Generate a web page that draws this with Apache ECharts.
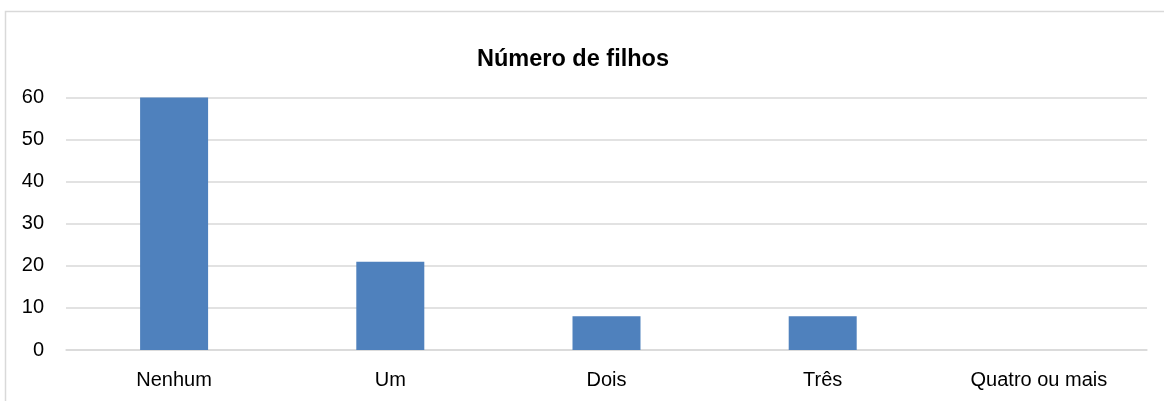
<!DOCTYPE html>
<html><head><meta charset="utf-8">
<script src="https://cdn.jsdelivr.net/npm/echarts@6/dist/echarts.min.js"></script>
<style>html,body{margin:0;padding:0;background:#fff}#c{width:1164px;height:401px}</style>
</head><body><div id="c"></div>
<script>
const categories = ["Nenhum", "Um", "Dois", "Três", "Quatro ou mais"];
const values = [60, 21, 8, 8, 0];
const titleText = "Número de filhos";
const FONT = '"Liberation Sans", Arial, sans-serif';

const chart = echarts.init(document.getElementById('c'), null, {renderer: 'canvas'});
chart.setOption({
  animation: false,
  backgroundColor: '#ffffff',
  title: {
    text: titleText, left: 568, top: 43, textAlign: 'center',
    textStyle: {fontFamily: FONT, fontWeight: 'bold', fontSize: 23.5, color: '#000'}
  },
  graphic: [{
    type: 'rect', silent: true, z: -1,
    shape: {x: 5.5, y: 11.5, width: 1300, height: 500},
    style: {fill: 'none', stroke: '#d9d9d9', lineWidth: 1.5}
  }],
  grid: {left: 66, right: 17, top: 97.5, bottom: 51, containLabel: false},
  xAxis: {
    type: 'category', data: categories,
    axisLine: {show: true, lineStyle: {color: '#d9d9d9', width: 1.5}},
    axisTick: {show: false},
    axisLabel: {margin: 20, color: '#000', fontSize: 20, fontFamily: FONT, interval: 0}
  },
  yAxis: {
    type: 'value', min: 0, max: 60, interval: 10,
    axisLine: {show: false}, axisTick: {show: false},
    splitLine: {lineStyle: {color: '#d9d9d9', width: 1.5}},
    axisLabel: {margin: 22, color: '#000', fontSize: 20, fontFamily: FONT}
  },
  series: [{
    type: 'bar', data: values, barWidth: 68,
    itemStyle: {color: '#4f81bd'}
  }]
});
</script></body></html>
